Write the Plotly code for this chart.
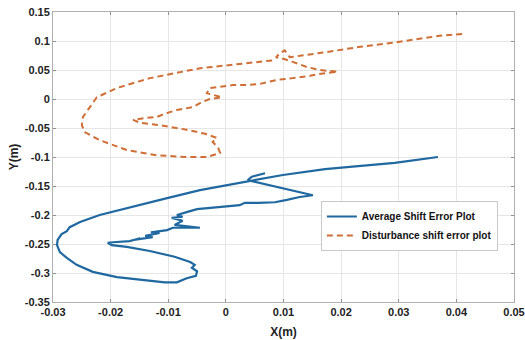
import plotly.graph_objects as go

# Average shift error (blue, solid)
avg_x = [0.0368, 0.0293, 0.0215, 0.0172, 0.0099, -0.0002, -0.0045, -0.0102, -0.0161, -0.0219,
         -0.0253, -0.0271, -0.0276, -0.0285, -0.0292, -0.0293, -0.0288, -0.0276, -0.0259, -0.0231,
         -0.0189, -0.0144, -0.0106, -0.0085, -0.0068, -0.0052, -0.0050, -0.0059, -0.0054, -0.0062,
         -0.0089, -0.0132, -0.0172, -0.0198, -0.0205, -0.0196, -0.0167, -0.0149, -0.0160, -0.0127,
         -0.0140, -0.0115, -0.0130, -0.0102, -0.0092, -0.0045, -0.0089, -0.0075, -0.0094, -0.0075,
         -0.0085, -0.0068, -0.0050, 0.0024, 0.0033, 0.0056, 0.0085, 0.0106, 0.0128, 0.0151,
         0.0125, 0.0090, 0.0056, 0.0038, 0.0045, 0.0068]
avg_y = [-0.100, -0.110, -0.117, -0.121, -0.131, -0.150, -0.157, -0.171, -0.186, -0.200,
         -0.212, -0.221, -0.228, -0.233, -0.243, -0.252, -0.264, -0.274, -0.286, -0.298,
         -0.307, -0.312, -0.316, -0.316, -0.309, -0.305, -0.297, -0.291, -0.286, -0.281,
         -0.272, -0.262, -0.255, -0.252, -0.248, -0.247, -0.245, -0.240, -0.243, -0.238,
         -0.236, -0.231, -0.230, -0.226, -0.222, -0.222, -0.217, -0.210, -0.205, -0.203,
         -0.200, -0.195, -0.190, -0.183, -0.179, -0.179, -0.178, -0.174, -0.169, -0.166,
         -0.160, -0.153, -0.145, -0.140, -0.134, -0.128]

# Disturbance shift error (orange, dashed)
dist_x = [0.0410, 0.0371, 0.0290, 0.0233, 0.0175, 0.0128, 0.0111, 0.0102, 0.0094, 0.0087,
          0.0101, 0.0116, 0.0141, 0.0163, 0.0194, 0.0160, 0.0146, 0.0116, 0.0089, 0.0059,
          0.0033, 0.0012, -0.0016, -0.0028, -0.0033, -0.0023, -0.0007, -0.0028, -0.0045, -0.0057,
          -0.0085, -0.0102, -0.0120, -0.0141, -0.0161, -0.0149, -0.0115, -0.0068, -0.0036, -0.0016,
          -0.0023, -0.0014, -0.0010, -0.0033, -0.0068, -0.0120, -0.0172, -0.0219, -0.0245, -0.0250,
          -0.0248, -0.0236, -0.0224, -0.0189, -0.0132, -0.0045, 0.0007, 0.0059, 0.0085]
dist_y = [0.112, 0.109, 0.097, 0.090, 0.081, 0.074, 0.072, 0.084, 0.079, 0.072,
          0.069, 0.064, 0.055, 0.050, 0.047, 0.043, 0.040, 0.036, 0.033, 0.026,
          0.024, 0.024, 0.021, 0.019, 0.010, 0.007, 0.003, 0.000, -0.007, -0.014,
          -0.019, -0.024, -0.031, -0.033, -0.036, -0.041, -0.045, -0.053, -0.060, -0.067,
          -0.074, -0.083, -0.093, -0.100, -0.100, -0.097, -0.088, -0.071, -0.057, -0.045,
          -0.031, -0.014, 0.003, 0.019, 0.036, 0.053, 0.059, 0.064, 0.067]

x_ticks = [-0.03, -0.02, -0.01, 0, 0.01, 0.02, 0.03, 0.04, 0.05]
x_labels = ["-0.03", "-0.02", "-0.01", "0", "0.01", "0.02", "0.03", "0.04", "0.05"]
y_ticks = [0.15, 0.1, 0.05, 0, -0.05, -0.1, -0.15, -0.2, -0.25, -0.3, -0.35]
y_labels = ["0.15", "0.1", "0.05", "0", "-0.05", "-0.1", "-0.15", "-0.2", "-0.25", "-0.3", "-0.35"]

FONT = "Liberation Sans, Arial, sans-serif"

fig = go.Figure()
fig.add_trace(go.Scatter(x=avg_x, y=avg_y, mode="lines", name="Average Shift Error Plot",
                         line=dict(color="#1f68a0", width=2.2)))
fig.add_trace(go.Scatter(x=dist_x, y=dist_y, mode="lines", name="Disturbance shift error plot",
                         line=dict(color="#cf6f36", width=2, dash="6px,4px")))

axis_common = dict(showgrid=True, gridcolor="#e6e6e6", gridwidth=1, zeroline=False,
                   showline=True, linecolor="#b0b0b0", linewidth=1, mirror="ticks",
                   ticks="inside", ticklen=3, tickcolor="#909090", automargin=False,
                   ticklabeloverflow="allow",
                   tickfont=dict(family=FONT, size=11, color="#222222", weight="bold"))

fig.update_xaxes(range=[-0.03, 0.05], tickvals=x_ticks, ticktext=x_labels,
                 title=dict(text="X(m)", font=dict(family=FONT, size=12, color="#222222", weight="bold"),
                            standoff=10),
                 **axis_common)
fig.update_yaxes(range=[-0.35, 0.15], tickvals=y_ticks, ticktext=y_labels,
                 title=dict(text="Y(m)", font=dict(family=FONT, size=12, color="#222222", weight="bold"),
                            standoff=3),
                 **axis_common)

fig.update_layout(
    width=525, height=340,
    margin=dict(l=53, r=11, t=12, b=38, autoexpand=False),
    paper_bgcolor="white", plot_bgcolor="white",
    showlegend=True,
    legend=dict(x=0.965, y=0.262, xanchor="right", yanchor="middle",
                bgcolor="white", bordercolor="#c8c8c8", borderwidth=1,
                font=dict(family=FONT, size=10, color="#111111", weight="bold"),
                tracegroupgap=0, itemwidth=30),
)

fig.write_html("out.html", config={"displayModeBar": False},
               post_script="document.body.style.margin='0';document.body.style.overflow='hidden';")
